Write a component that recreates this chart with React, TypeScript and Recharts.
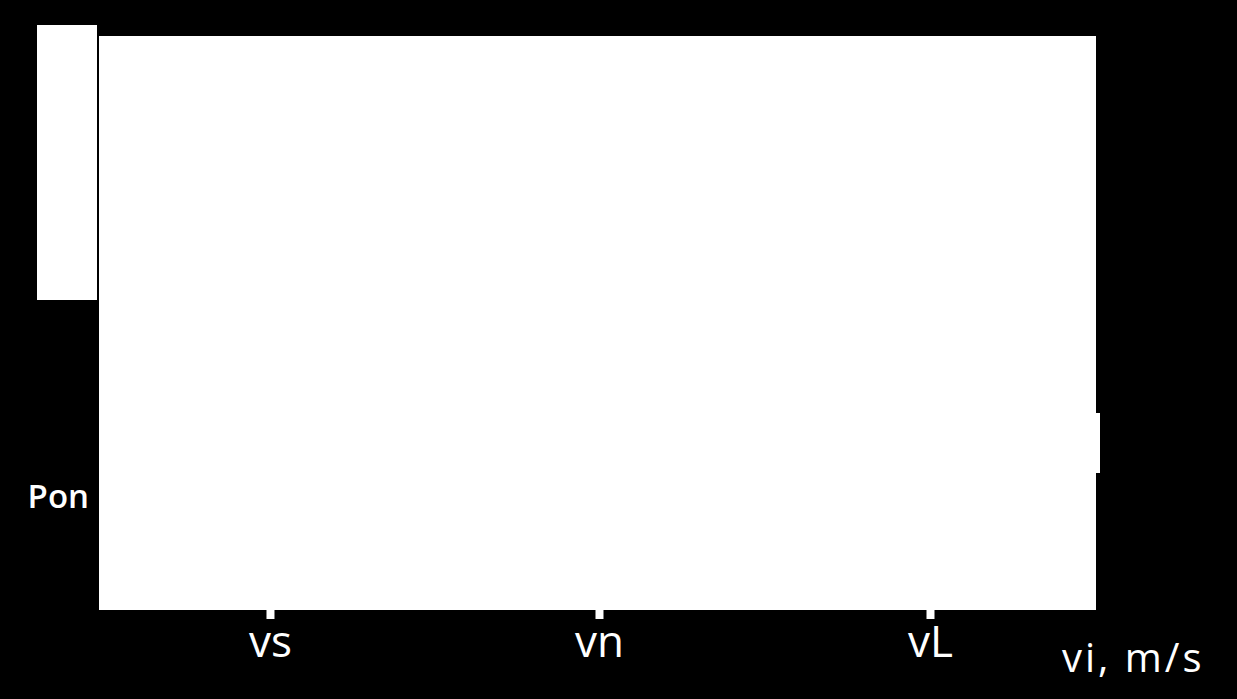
import React from 'react';
import { ComposedChart, XAxis, YAxis, CartesianGrid, Label } from 'recharts';

// Speed axis (relative position of each named speed along the axis, 0..100)
const xTickValues = [17.2, 50.2, 83.4];
const xTickLabels = ['vs', 'vn', 'vL'];
// Power axis
const yTickValues = [19.7];
const yTickLabels = ['Pon'];
const xAxisTitle = 'vi, m/s';

const chartData = xTickValues.map((v) => ({ x: v, y: yTickValues[0] }));

const FONT = "'Open Sans', 'Noto Sans', sans-serif";

const xFmt = (v: number) => {
  const i = xTickValues.indexOf(v);
  return i >= 0 ? xTickLabels[i] : '';
};
const yFmt = (v: number) => {
  const i = yTickValues.indexOf(v);
  return i >= 0 ? yTickLabels[i] : '';
};

export default function App() {
  return (
    <div
      style={{
        position: 'absolute',
        left: 0,
        top: 0,
        width: 1237,
        height: 699,
        background: '#000',
        fontFamily: FONT,
        overflow: 'hidden',
      }}
    >
      <ComposedChart
        width={1237}
        height={699}
        data={chartData}
        margin={{ top: 36, right: 141, bottom: 30, left: 29 }}
      >
        <CartesianGrid fill="#fff" stroke="none" horizontal={false} vertical={false} />
        <XAxis
          dataKey="x"
          type="number"
          domain={[0, 100]}
          allowDataOverflow
          ticks={xTickValues}
          tickFormatter={xFmt}
          interval={0}
          height={60}
          axisLine={{ stroke: '#fff', strokeWidth: 2 }}
          tickLine={{ stroke: '#fff', strokeWidth: 8 }}
          tickSize={10}
          tickMargin={7}
          tick={{ fill: '#fff', fontSize: 44, fontFamily: FONT }}
        >
          <Label
            content={(props: any) => {
              const vb = props.viewBox || {};
              return (
                <text
                  x={vb.x + vb.width - 34}
                  y={vb.y + 63}
                  fill="#fff"
                  fontSize={40}
                  fontFamily={FONT}
                  letterSpacing={3}
                  textAnchor="start"
                >
                  {xAxisTitle}
                </text>
              );
            }}
          />
        </XAxis>
        <YAxis
          dataKey="y"
          type="number"
          domain={[0, 100]}
          allowDataOverflow
          ticks={yTickValues}
          tickFormatter={yFmt}
          interval={0}
          width={70}
          axisLine={false}
          tickLine={false}
          tickSize={0}
          tickMargin={10}
          tick={{ fill: '#fff', fontSize: 33, fontWeight: 600, fontFamily: FONT }}
        />
      </ComposedChart>
      <div
        style={{ position: 'absolute', left: 37, top: 25, width: 60, height: 275, background: '#fff' }}
      />
      <div
        style={{ position: 'absolute', left: 1090, top: 413, width: 10, height: 60, background: '#fff' }}
      />
    </div>
  );
}
